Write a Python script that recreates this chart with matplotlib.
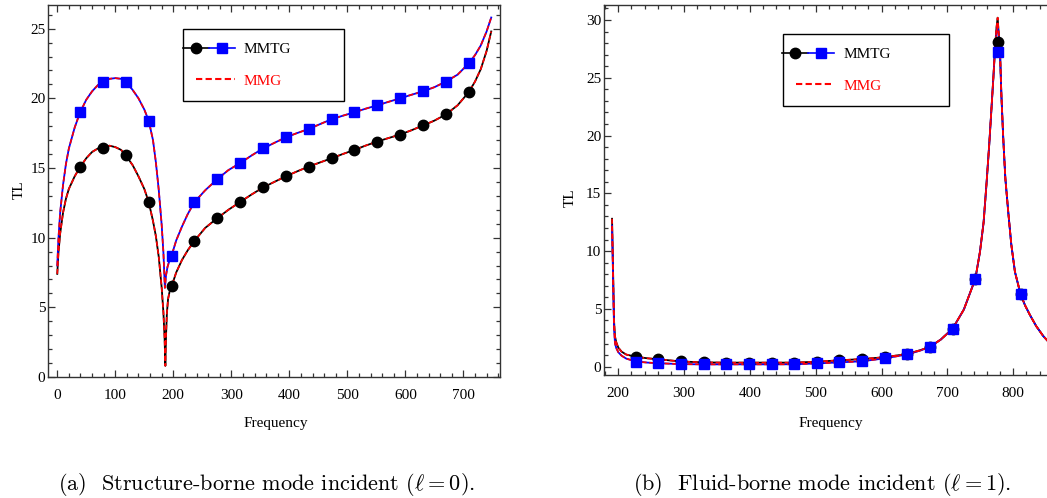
import numpy as np
import matplotlib.pyplot as plt
from matplotlib.lines import Line2D
from matplotlib.legend_handler import HandlerTuple
from matplotlib.ticker import MultipleLocator

plt.rcParams['font.family'] = ['Liberation Serif', 'DejaVu Serif']
plt.rcParams['mathtext.fontset'] = 'cm'

# ---------------- (a) structure-borne mode incident, l = 0 ----------------
fa_black = [0, 2, 5, 10, 15, 20, 30, 39.4, 50, 60, 70, 78.8, 90, 100, 110, 118.2,
            130, 140, 150, 157.6, 165, 170, 175, 180, 183, 185, 186.3, 187.5,
            189, 191, 193.5, 197, 205, 215, 225, 236.4, 255, 275.8, 295, 315.2,
            335, 354.6, 374, 394, 413, 433.4, 453, 472.8, 492, 512.2, 531, 551.6,
            571, 591, 610, 630.4, 650, 669.8, 690, 709.2, 720, 730, 740, 748]
tl_black_a = [7.4, 8.9, 10.3, 11.8, 12.8, 13.5, 14.4, 15.07, 15.7, 16.15, 16.4, 16.5,
              16.6, 16.5, 16.3, 15.9, 15.2, 14.4, 13.5, 12.56, 11.2, 10.1, 8.6, 6.4,
              4.6, 2.8, 0.8, 3.0, 4.6, 5.6, 6.1, 6.5, 7.5, 8.4, 9.1, 9.77,
              10.7, 11.4, 12.0, 12.56, 13.1, 13.6, 14.0, 14.4, 14.75, 15.1, 15.4, 15.7,
              16.0, 16.3, 16.6, 16.9, 17.15, 17.4, 17.7, 18.05, 18.4, 18.84, 19.5, 20.44,
              21.2, 22.1, 23.4, 24.8]

fa_blue = [0, 2, 5, 10, 15, 20, 30, 39.4, 50, 60, 70, 78.8, 90, 100, 110, 118.2,
           130, 140, 150, 157.6, 165, 170, 175, 180, 183, 185.5, 187.5, 190,
           193, 197, 205, 215, 225, 236.4, 255, 275.8, 295, 315.2, 335, 354.6,
           374, 394, 413, 433.4, 453, 472.8, 492, 512.2, 531, 551.6, 571, 591,
           610, 630.4, 650, 669.8, 690, 709.2, 720, 730, 740, 748]
tl_blue_a = [8.0, 9.9, 11.8, 13.8, 15.3, 16.4, 17.9, 19.0, 19.9, 20.5, 20.95, 21.2,
             21.4, 21.45, 21.4, 21.2, 20.6, 20.0, 19.2, 18.4, 17.0, 15.4, 13.4, 10.9,
             8.9, 6.4, 7.3, 7.9, 8.3, 8.7, 9.8, 10.8, 11.7, 12.55, 13.4, 14.2,
             14.85, 15.35, 15.9, 16.4, 16.8, 17.2, 17.5, 17.8, 18.15, 18.5, 18.75, 19.0,
             19.25, 19.5, 19.75, 20.0, 20.25, 20.5, 20.8, 21.2, 21.7, 22.5, 23.1, 23.8,
             24.8, 25.8]

fa_mk = [39.4, 78.8, 118.2, 157.6, 197.0, 236.4, 275.8, 315.2, 354.6, 394.0,
         433.4, 472.8, 512.2, 551.6, 591.0, 630.4, 669.8, 709.2]
mk_black_a = [15.07, 16.45, 15.9, 12.56, 6.5, 9.77, 11.4, 12.56, 13.6, 14.4,
              15.1, 15.7, 16.3, 16.9, 17.4, 18.05, 18.84, 20.44]
mk_blue_a = [19.0, 21.2, 21.2, 18.4, 8.7, 12.55, 14.2, 15.35, 16.4, 17.2,
             17.8, 18.5, 19.0, 19.5, 20.0, 20.5, 21.2, 22.5]

# ---------------- (b) fluid-borne mode incident, l = 1 ----------------
fb = [190.5, 192, 193.5, 195, 197, 200, 205, 212, 226.4, 245, 260.8, 295.2,
      329.6, 364, 398.4, 432.8, 467.2, 501.6, 536, 570.4, 604.8, 639.2, 660, 673.6,
      690, 708, 725, 742.4, 749.5, 755, 759.6, 763.5, 767.2, 770, 772.2, 774.5,
      776.3, 777.5, 779.8, 782, 784.8, 788, 792.4, 797, 802.6, 811.2, 818, 825.4,
      835, 845.6, 856]
tl_black_b = [12.8, 8.5, 4.0, 2.6, 2.1, 1.65, 1.3, 1.05, 0.86, 0.72, 0.64, 0.45,
              0.37, 0.35, 0.35, 0.35, 0.35, 0.43, 0.55, 0.66, 0.82, 1.1, 1.45, 1.72,
              2.35, 3.3, 4.95, 7.6, 9.95, 12.5, 16.0, 19.2, 22.6, 25.2, 27.5, 29.3,
              30.2, 29.2, 27.5, 23.5, 19.8, 16.3, 13.4, 10.6, 8.2, 6.26, 5.3, 4.47,
              3.5, 2.65, 2.0]
tl_blue_b = [12.2, 7.8, 3.4, 2.0, 1.6, 1.25, 0.95, 0.7, 0.45, 0.35, 0.3, 0.22,
             0.2, 0.2, 0.2, 0.2, 0.21, 0.28, 0.37, 0.47, 0.72, 1.06, 1.42, 1.72,
             2.35, 3.3, 4.95, 7.6, 9.95, 12.5, 16.0, 19.2, 22.6, 25.2, 27.3, 28.9,
             29.6, 28.9, 27.3, 23.5, 19.8, 16.3, 13.4, 10.6, 8.2, 6.26, 5.3, 4.47,
             3.5, 2.65, 2.0]

fb_mk = [226.4, 260.8, 295.2, 329.6, 364.0, 398.4, 432.8, 467.2, 501.6, 536.0,
         570.4, 604.8, 639.2, 673.6, 708.0, 742.4, 776.8, 811.2]
mk_black_b = [0.86, 0.64, 0.45, 0.37, 0.35, 0.35, 0.35, 0.35, 0.43, 0.55,
              0.66, 0.82, 1.1, 1.72, 3.3, 7.6, 28.06, 6.26]
mk_blue_b = [0.43, 0.29, 0.2, 0.2, 0.2, 0.2, 0.2, 0.2, 0.29, 0.37,
             0.46, 0.72, 1.06, 1.72, 3.27, 7.6, 27.2, 6.26]

captions = [r'(a)  Structure-borne mode incident ($\ell = 0$).',
            r'(b)  Fluid-borne mode incident ($\ell = 1$).']

FS = 11
dash = (0, (3, 1.6))


def draw_panel(ax, fk, yk, fbl, ybl, fm, mk_k, mk_b):
    ax.plot(fk, yk, '-', color='black', lw=1.3, zorder=2)
    ax.plot(fk, yk, color='red', ls=dash, lw=1.2, zorder=3)
    ax.plot(fbl, ybl, '-', color='blue', lw=1.3, zorder=2)
    ax.plot(fbl, ybl, color='red', ls=dash, lw=1.2, zorder=3)
    ax.plot(fm, mk_k, 'o', color='black', ms=7.5, zorder=4)
    ax.plot(fm, mk_b, 's', color='blue', ms=7, zorder=5)

    ax.xaxis.set_major_locator(MultipleLocator(100))
    ax.xaxis.set_minor_locator(MultipleLocator(20))
    ax.yaxis.set_major_locator(MultipleLocator(5))
    ax.yaxis.set_minor_locator(MultipleLocator(1))
    ax.tick_params(which='both', direction='in', top=True, right=True,
                   color='#333333', width=0.9, labelsize=FS)
    ax.tick_params(which='major', length=5)
    ax.tick_params(which='minor', length=2.8)
    ax.tick_params(axis='x', pad=8.5)
    ax.tick_params(axis='y', pad=2)
    for sp in ax.spines.values():
        sp.set_color('#333333')
        sp.set_linewidth(1.0)

    ax.set_xlabel('Frequency', fontsize=FS)
    ax.set_ylabel('TL', fontsize=FS)


def add_legend(ax, box):
    h_mmtg = (Line2D([], [], color='black', marker='o', ms=7.5, lw=1.2),
              Line2D([], [], color='blue', marker='s', ms=7, lw=1.2))
    h_mmg = Line2D([], [], color='red', ls=dash, lw=1.5)
    leg = ax.legend([h_mmtg, h_mmg], ['MMTG', 'MMG'],
                    handler_map={tuple: HandlerTuple(ndivide=None, pad=0, xpad=-0.9)},
                    loc='upper left', bbox_to_anchor=box, mode='expand',
                    fontsize=FS, handlelength=2.5, handletextpad=0.6,
                    borderpad=0.88, labelspacing=1.15, borderaxespad=0,
                    fancybox=False, framealpha=1, edgecolor='black')
    leg.get_frame().set_linewidth(1.0)
    leg.get_texts()[0].set_color('black')
    leg.get_texts()[1].set_color('red')


fig = plt.figure(figsize=(10.47, 4.98), dpi=100)

ax1 = fig.add_axes([0.0461, 0.2430, 0.4314, 0.7470])
draw_panel(ax1, fa_black, tl_black_a, fa_blue, tl_blue_a, fa_mk, mk_black_a, mk_blue_a)
ax1.set_xlim(-15.5, 763)
ax1.set_ylim(0, 26.7)
ax1.xaxis.set_label_coords(0.504, -0.108)
ax1.yaxis.set_label_coords(-0.05, 0.503)
add_legend(ax1, (0.298, 0.747, 0.357, 0.188))

# right panel runs off the figure edge, so its right spine is cut away
ax2 = fig.add_axes([0.5769, 0.2470, 0.4331, 0.7430])
draw_panel(ax2, fb, tl_black_b, fb, tl_blue_b, fb_mk, mk_black_b, mk_blue_b)
ax2.set_xlim(178.3, 867.2)
ax2.set_ylim(-0.72, 31.3)
ax2.xaxis.set_label_coords(0.5, -0.113)
ax2.yaxis.set_label_coords(-0.06, 0.48)
add_legend(ax2, (0.394, 0.732, 0.3674, 0.189))

fig.text(0.255, 0.028, captions[0], ha='center', va='center',
         fontsize=16, family='cmr10')
fig.text(0.785, 0.028, captions[1], ha='center', va='center',
         fontsize=16, family='cmr10')

fig.savefig('out.png', dpi=100)
